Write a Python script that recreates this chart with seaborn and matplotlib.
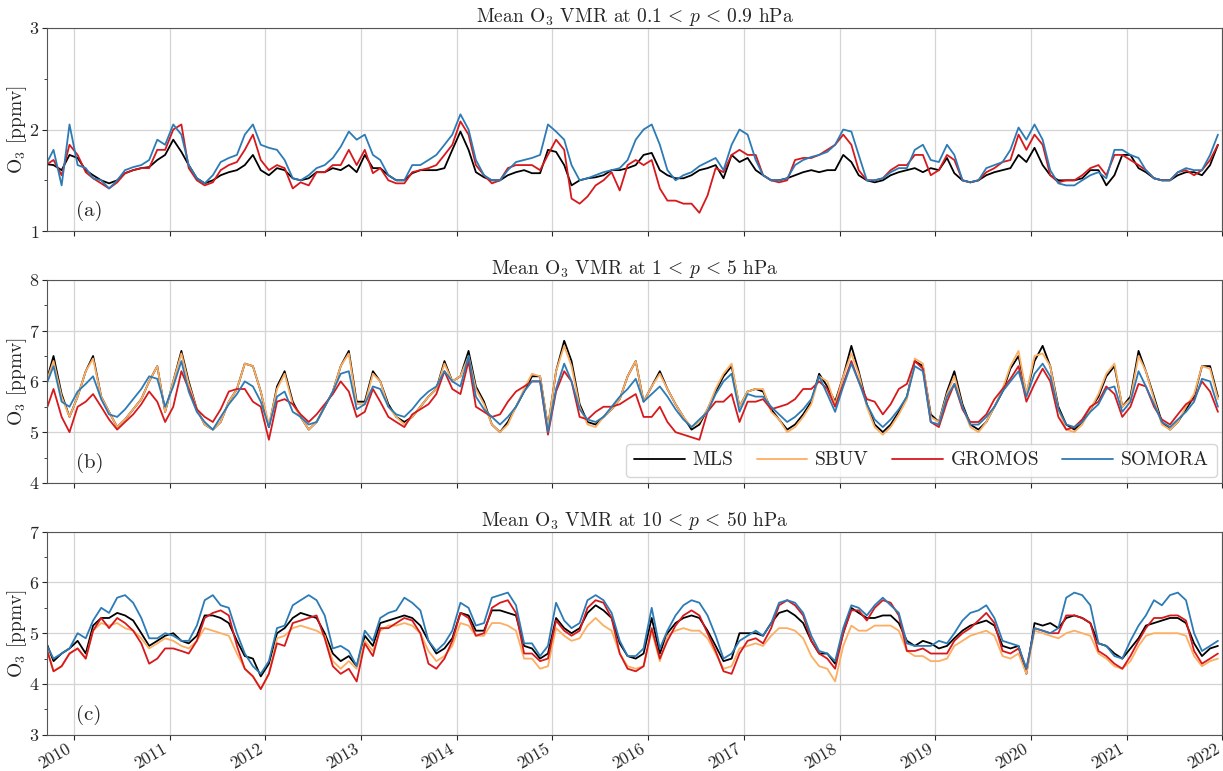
import matplotlib
matplotlib.use("Agg")
import matplotlib.pyplot as plt
import matplotlib.dates as mdates
from matplotlib.lines import Line2D
from matplotlib.ticker import MultipleLocator
import seaborn as sns
import pandas as pd

# monthly means, Sep 2009 .. Dec 2021
months = pd.date_range("2009-09-01", "2021-12-01", freq="MS") + pd.Timedelta(days=14)

instruments = ["MLS", "SBUV", "GROMOS", "SOMORA"]
colors = {"MLS": "black", "SBUV": "#fdae61", "GROMOS": "#d7191c", "SOMORA": "#2c7bb6"}

# panel (a): 0.1 < p < 0.9 hPa
a_mls = [1.66, 1.65, 1.60, 1.75,
         1.72, 1.60, 1.55, 1.50, 1.47, 1.50, 1.57, 1.60, 1.62, 1.63, 1.70, 1.75,
         1.90, 1.78, 1.65, 1.52, 1.47, 1.50, 1.55, 1.58, 1.60, 1.65, 1.75, 1.60,
         1.55, 1.62, 1.60, 1.52, 1.50, 1.52, 1.58, 1.58, 1.62, 1.60, 1.65, 1.58,
         1.75, 1.62, 1.62, 1.55, 1.50, 1.50, 1.57, 1.60, 1.60, 1.60, 1.62, 1.80,
         1.98, 1.80, 1.58, 1.53, 1.50, 1.50, 1.55, 1.58, 1.60, 1.57, 1.57, 1.80,
         1.78, 1.65, 1.45, 1.50, 1.52, 1.53, 1.55, 1.60, 1.60, 1.62, 1.65, 1.75,
         1.77, 1.60, 1.55, 1.52, 1.52, 1.55, 1.60, 1.62, 1.65, 1.52, 1.75, 1.68,
         1.72, 1.60, 1.55, 1.50, 1.50, 1.52, 1.55, 1.58, 1.60, 1.58, 1.60, 1.60,
         1.75, 1.68, 1.55, 1.50, 1.48, 1.50, 1.55, 1.58, 1.60, 1.62, 1.58, 1.62,
         1.60, 1.72, 1.57, 1.50, 1.48, 1.50, 1.55, 1.58, 1.60, 1.62, 1.75, 1.68,
         1.82, 1.65, 1.55, 1.50, 1.50, 1.50, 1.52, 1.60, 1.60, 1.45, 1.55, 1.75,
         1.75, 1.62, 1.58, 1.52, 1.50, 1.50, 1.55, 1.58, 1.58, 1.55, 1.65, 1.85]
a_gromos = [1.65, 1.70, 1.55, 1.85,
            1.75, 1.58, 1.52, 1.47, 1.42, 1.48, 1.57, 1.60, 1.62, 1.62, 1.80, 1.80,
            2.00, 2.05, 1.62, 1.50, 1.45, 1.48, 1.60, 1.65, 1.68, 1.80, 1.95, 1.70,
            1.60, 1.65, 1.62, 1.42, 1.48, 1.45, 1.58, 1.58, 1.65, 1.65, 1.80, 1.65,
            1.80, 1.57, 1.62, 1.50, 1.47, 1.47, 1.58, 1.60, 1.62, 1.65, 1.75, 1.85,
            2.08, 1.95, 1.65, 1.55, 1.47, 1.50, 1.62, 1.65, 1.65, 1.65, 1.60, 1.75,
            1.90, 1.80, 1.32, 1.27, 1.34, 1.45, 1.50, 1.58, 1.40, 1.65, 1.70, 1.65,
            1.70, 1.42, 1.30, 1.30, 1.27, 1.27, 1.18, 1.35, 1.62, 1.58, 1.75, 1.80,
            1.75, 1.75, 1.55, 1.50, 1.48, 1.50, 1.70, 1.72, 1.72, 1.75, 1.80, 1.85,
            1.95, 1.85, 1.60, 1.50, 1.50, 1.52, 1.60, 1.65, 1.65, 1.75, 1.75, 1.55,
            1.60, 1.75, 1.70, 1.50, 1.48, 1.50, 1.58, 1.62, 1.68, 1.70, 1.95, 1.80,
            1.95, 1.85, 1.55, 1.48, 1.50, 1.50, 1.55, 1.62, 1.65, 1.55, 1.75, 1.75,
            1.70, 1.65, 1.60, 1.52, 1.50, 1.50, 1.58, 1.60, 1.55, 1.60, 1.70, 1.85]
a_somora = [1.65, 1.80, 1.45, 2.05,
            1.65, 1.62, 1.52, 1.50, 1.42, 1.50, 1.60, 1.63, 1.65, 1.70, 1.90, 1.85,
            2.05, 1.95, 1.65, 1.52, 1.47, 1.55, 1.68, 1.72, 1.75, 1.95, 2.05, 1.85,
            1.82, 1.80, 1.70, 1.52, 1.50, 1.55, 1.62, 1.65, 1.72, 1.83, 1.98, 1.90,
            1.95, 1.75, 1.70, 1.55, 1.50, 1.50, 1.65, 1.65, 1.70, 1.75, 1.85, 1.95,
            2.15, 2.00, 1.70, 1.55, 1.50, 1.50, 1.60, 1.68, 1.70, 1.72, 1.75, 2.05,
            1.98, 1.90, 1.65, 1.50, 1.52, 1.55, 1.58, 1.60, 1.62, 1.70, 1.90, 2.00,
            2.05, 1.85, 1.60, 1.50, 1.55, 1.58, 1.64, 1.68, 1.72, 1.60, 1.85, 2.00,
            1.95, 1.70, 1.55, 1.50, 1.50, 1.52, 1.65, 1.70, 1.73, 1.75, 1.78, 1.85,
            2.00, 1.98, 1.75, 1.50, 1.50, 1.52, 1.58, 1.62, 1.62, 1.80, 1.85, 1.70,
            1.68, 1.85, 1.75, 1.50, 1.48, 1.50, 1.62, 1.65, 1.68, 1.80, 2.02, 1.90,
            2.05, 1.90, 1.60, 1.47, 1.45, 1.45, 1.50, 1.55, 1.58, 1.52, 1.80, 1.80,
            1.75, 1.72, 1.60, 1.52, 1.50, 1.50, 1.58, 1.62, 1.60, 1.60, 1.75, 1.95]

# panel (b): 1 < p < 5 hPa
b_mls = [5.95, 6.50, 5.75, 5.30,
         5.70, 6.20, 6.50, 5.70, 5.40, 5.10, 5.25, 5.45, 5.65, 6.00, 6.30, 5.40,
         6.00, 6.60, 6.00, 5.45, 5.15, 5.05, 5.20, 5.60, 5.85, 6.35, 6.30, 5.80,
         5.10, 5.90, 6.20, 5.60, 5.30, 5.05, 5.20, 5.50, 5.80, 6.30, 6.60, 5.60,
         5.60, 6.20, 6.00, 5.55, 5.30, 5.20, 5.30, 5.50, 5.70, 5.85, 6.40, 6.00,
         6.10, 6.60, 5.90, 5.60, 5.15, 5.00, 5.20, 5.50, 5.80, 6.10, 6.10, 5.10,
         6.20, 6.80, 6.40, 5.55, 5.20, 5.15, 5.30, 5.45, 5.65, 6.10, 6.40, 5.60,
         5.90, 6.20, 5.85, 5.55, 5.30, 5.05, 5.15, 5.45, 5.80, 6.10, 6.30, 5.50,
         5.80, 5.85, 5.80, 5.45, 5.25, 5.05, 5.15, 5.35, 5.60, 6.15, 5.90, 5.60,
         6.10, 6.70, 6.20, 5.55, 5.15, 5.00, 5.15, 5.40, 5.70, 6.40, 6.30, 5.35,
         5.20, 5.80, 6.20, 5.55, 5.15, 5.05, 5.20, 5.50, 5.80, 6.25, 6.50, 5.75,
         6.40, 6.70, 6.30, 5.50, 5.15, 5.05, 5.20, 5.45, 5.70, 6.10, 6.30, 5.50,
         5.70, 6.60, 6.20, 5.70, 5.20, 5.05, 5.20, 5.45, 5.70, 6.30, 6.30, 5.70]
b_sbuv = [5.95, 6.40, 5.70, 5.30,
          5.70, 6.20, 6.45, 5.70, 5.40, 5.10, 5.25, 5.45, 5.65, 6.00, 6.30, 5.40,
          6.00, 6.55, 5.95, 5.45, 5.15, 5.05, 5.20, 5.60, 5.85, 6.35, 6.30, 5.80,
          5.15, 5.85, 6.15, 5.55, 5.30, 5.05, 5.20, 5.50, 5.80, 6.30, 6.55, 5.55,
          5.55, 6.15, 6.00, 5.50, 5.30, 5.15, 5.30, 5.50, 5.70, 5.85, 6.35, 6.00,
          6.10, 6.50, 5.85, 5.55, 5.15, 5.00, 5.15, 5.50, 5.85, 6.15, 6.10, 5.10,
          6.20, 6.70, 6.30, 5.50, 5.15, 5.10, 5.30, 5.45, 5.65, 6.10, 6.40, 5.60,
          5.90, 6.15, 5.85, 5.55, 5.30, 5.10, 5.20, 5.45, 5.85, 6.15, 6.35, 5.50,
          5.80, 5.85, 5.85, 5.40, 5.25, 5.00, 5.10, 5.30, 5.55, 6.10, 6.00, 5.55,
          6.10, 6.55, 6.15, 5.50, 5.10, 4.95, 5.10, 5.35, 5.65, 6.45, 6.35, 5.30,
          5.20, 5.75, 6.10, 5.50, 5.10, 5.00, 5.20, 5.50, 5.85, 6.30, 6.60, 5.75,
          6.50, 6.55, 6.30, 5.45, 5.05, 5.00, 5.15, 5.45, 5.75, 6.15, 6.35, 5.50,
          5.65, 6.50, 6.20, 5.65, 5.15, 5.05, 5.20, 5.50, 5.75, 6.30, 6.25, 5.65]
b_gromos = [5.40, 5.85, 5.30, 5.00,
            5.50, 5.60, 5.75, 5.50, 5.25, 5.05, 5.20, 5.35, 5.55, 5.80, 5.60, 5.20,
            5.50, 6.20, 5.85, 5.45, 5.30, 5.20, 5.45, 5.80, 5.85, 5.85, 5.60, 5.50,
            4.85, 5.60, 5.65, 5.55, 5.35, 5.20, 5.35, 5.55, 5.75, 6.00, 5.80, 5.30,
            5.40, 5.85, 5.60, 5.30, 5.20, 5.10, 5.35, 5.45, 5.55, 5.75, 6.20, 5.85,
            5.75, 6.40, 5.50, 5.40, 5.30, 5.35, 5.60, 5.80, 5.90, 6.00, 6.00, 4.95,
            5.80, 6.20, 6.00, 5.30, 5.25, 5.40, 5.50, 5.50, 5.55, 5.65, 5.75, 5.30,
            5.30, 5.50, 5.20, 5.00, 4.95, 4.90, 4.85, 5.40, 5.60, 5.60, 5.75, 5.20,
            5.60, 5.60, 5.65, 5.45, 5.50, 5.55, 5.65, 5.85, 5.85, 6.00, 5.85, 5.50,
            5.95, 6.40, 6.00, 5.65, 5.60, 5.35, 5.55, 5.85, 5.95, 6.40, 6.25, 5.20,
            5.10, 5.60, 5.95, 5.45, 5.20, 5.20, 5.35, 5.65, 5.85, 6.05, 6.30, 5.60,
            5.95, 6.25, 6.00, 5.30, 5.05, 5.10, 5.25, 5.50, 5.60, 5.90, 5.75, 5.30,
            5.50, 5.95, 5.90, 5.50, 5.25, 5.15, 5.35, 5.55, 5.65, 6.00, 5.80, 5.40]
b_somora = [5.90, 6.30, 5.60, 5.50,
            5.80, 5.95, 6.10, 5.65, 5.35, 5.30, 5.45, 5.65, 5.85, 6.10, 6.05, 5.50,
            5.90, 6.40, 5.80, 5.40, 5.20, 5.05, 5.30, 5.55, 5.75, 6.00, 5.90, 5.60,
            5.10, 5.70, 5.80, 5.40, 5.30, 5.15, 5.20, 5.50, 5.80, 6.15, 6.20, 5.45,
            5.55, 5.90, 5.85, 5.50, 5.35, 5.30, 5.45, 5.65, 5.80, 5.90, 6.20, 6.00,
            5.90, 6.50, 5.70, 5.45, 5.30, 5.15, 5.30, 5.50, 5.80, 6.00, 6.00, 5.00,
            5.85, 6.35, 6.00, 5.45, 5.25, 5.20, 5.30, 5.50, 5.70, 5.85, 6.05, 5.60,
            5.75, 5.90, 5.70, 5.45, 5.25, 5.10, 5.25, 5.40, 5.75, 6.00, 6.15, 5.40,
            5.75, 5.70, 5.70, 5.50, 5.35, 5.20, 5.30, 5.45, 5.65, 6.10, 5.75, 5.40,
            5.90, 6.35, 6.00, 5.55, 5.25, 5.10, 5.25, 5.45, 5.70, 6.30, 6.20, 5.20,
            5.15, 5.70, 5.95, 5.50, 5.15, 5.15, 5.30, 5.50, 5.80, 6.00, 6.20, 5.70,
            6.15, 6.35, 6.10, 5.45, 5.15, 5.10, 5.20, 5.40, 5.55, 5.85, 5.90, 5.40,
            5.60, 6.20, 5.90, 5.55, 5.20, 5.10, 5.25, 5.40, 5.60, 6.05, 6.00, 5.50]

# panel (c): 10 < p < 50 hPa
c_mls = [4.85, 4.45, 4.60, 4.70,
         4.85, 4.60, 5.15, 5.30, 5.30, 5.40, 5.35, 5.25, 5.00, 4.75, 4.85, 4.95,
         5.00, 4.85, 4.80, 4.95, 5.35, 5.35, 5.30, 5.20, 4.85, 4.55, 4.50, 4.15,
         4.40, 5.00, 5.10, 5.30, 5.40, 5.35, 5.30, 5.00, 4.60, 4.45, 4.55, 4.35,
         4.95, 4.75, 5.20, 5.25, 5.30, 5.35, 5.30, 5.15, 4.85, 4.60, 4.70, 4.90,
         5.40, 5.35, 5.05, 5.05, 5.45, 5.45, 5.40, 5.35, 4.75, 4.70, 4.50, 4.60,
         5.30, 5.10, 5.00, 5.10, 5.40, 5.55, 5.45, 5.30, 4.80, 4.55, 4.50, 4.60,
         5.30, 4.60, 5.00, 5.20, 5.30, 5.35, 5.30, 5.05, 4.75, 4.45, 4.50, 5.00,
         5.00, 5.00, 4.95, 5.20, 5.40, 5.45, 5.35, 5.20, 4.85, 4.60, 4.60, 4.40,
         5.00, 5.50, 5.40, 5.30, 5.30, 5.35, 5.35, 5.20, 4.85, 4.75, 4.85, 4.80,
         4.70, 4.75, 4.90, 5.05, 5.15, 5.20, 5.25, 5.15, 4.75, 4.70, 4.75, 4.20,
         5.20, 5.15, 5.20, 5.10, 5.30, 5.35, 5.30, 5.20, 4.80, 4.75, 4.60, 4.50,
         4.70, 4.90, 5.15, 5.20, 5.25, 5.30, 5.30, 5.20, 4.80, 4.55, 4.70, 4.75]
c_sbuv = [4.80, 4.25, 4.35, 4.60,
          4.70, 4.50, 5.05, 5.20, 5.15, 5.20, 5.10, 5.05, 4.90, 4.70, 4.80, 4.90,
          4.85, 4.75, 4.70, 4.85, 5.10, 5.05, 5.00, 4.95, 4.60, 4.30, 4.15, 3.90,
          4.20, 4.90, 4.95, 5.10, 5.15, 5.10, 5.05, 4.95, 4.45, 4.30, 4.45, 4.30,
          4.85, 4.65, 5.05, 5.15, 5.15, 5.20, 5.15, 5.00, 4.65, 4.45, 4.55, 4.75,
          5.20, 5.15, 4.95, 4.95, 5.20, 5.20, 5.15, 5.05, 4.50, 4.50, 4.30, 4.35,
          5.10, 4.95, 4.85, 4.90, 5.15, 5.30, 5.15, 5.05, 4.60, 4.35, 4.30, 4.35,
          5.05, 4.45, 4.95, 5.05, 5.10, 5.05, 5.05, 4.90, 4.60, 4.30, 4.35, 4.70,
          4.75, 4.80, 4.75, 4.95, 5.10, 5.10, 5.05, 4.90, 4.55, 4.35, 4.30, 4.05,
          4.75, 5.15, 5.05, 5.05, 5.15, 5.15, 5.15, 5.05, 4.65, 4.55, 4.55, 4.45,
          4.45, 4.50, 4.75, 4.85, 4.95, 5.00, 5.05, 4.95, 4.55, 4.50, 4.60, 4.20,
          5.05, 5.00, 4.95, 4.90, 5.00, 5.05, 5.00, 4.95, 4.60, 4.50, 4.35, 4.30,
          4.45, 4.75, 4.95, 5.00, 5.00, 5.00, 5.00, 4.95, 4.55, 4.35, 4.45, 4.50]
c_gromos = [4.75, 4.25, 4.35, 4.60,
            4.70, 4.50, 5.05, 5.30, 5.10, 5.30, 5.20, 5.05, 4.80, 4.40, 4.50, 4.70,
            4.70, 4.65, 4.60, 4.85, 5.30, 5.40, 5.45, 5.35, 4.75, 4.30, 4.15, 3.90,
            4.20, 4.80, 4.75, 5.20, 5.25, 5.30, 5.35, 4.90, 4.35, 4.20, 4.30, 4.05,
            4.80, 4.55, 5.10, 5.10, 5.20, 5.30, 5.25, 5.00, 4.40, 4.30, 4.50, 4.85,
            5.40, 5.30, 4.95, 5.00, 5.50, 5.60, 5.65, 5.40, 4.60, 4.60, 4.45, 4.50,
            5.25, 5.05, 4.95, 5.05, 5.50, 5.65, 5.60, 5.30, 4.60, 4.30, 4.25, 4.35,
            5.10, 4.50, 4.85, 5.15, 5.35, 5.45, 5.35, 5.00, 4.65, 4.25, 4.20, 4.60,
            4.85, 4.90, 4.80, 5.10, 5.55, 5.65, 5.55, 5.35, 4.85, 4.60, 4.50, 4.30,
            5.00, 5.45, 5.45, 5.25, 5.50, 5.65, 5.60, 5.35, 4.65, 4.65, 4.70, 4.60,
            4.60, 4.60, 4.85, 5.00, 5.10, 5.25, 5.40, 5.20, 4.65, 4.60, 4.70, 4.30,
            5.10, 5.05, 5.00, 5.00, 5.35, 5.35, 5.30, 5.20, 4.65, 4.55, 4.40, 4.30,
            4.55, 4.85, 5.10, 5.30, 5.30, 5.35, 5.35, 5.25, 4.65, 4.40, 4.50, 4.60]
c_somora = [4.80, 4.50, 4.60, 4.70,
            5.00, 4.90, 5.25, 5.50, 5.40, 5.70, 5.75, 5.60, 5.30, 4.90, 4.90, 5.00,
            4.95, 4.85, 4.85, 5.15, 5.65, 5.75, 5.55, 5.50, 5.00, 4.60, 4.35, 4.20,
            4.45, 5.10, 5.15, 5.55, 5.65, 5.75, 5.65, 5.35, 4.70, 4.75, 4.65, 4.35,
            5.05, 4.85, 5.30, 5.40, 5.45, 5.70, 5.60, 5.45, 4.85, 4.65, 4.80, 5.05,
            5.60, 5.50, 5.15, 5.20, 5.70, 5.75, 5.80, 5.55, 4.80, 4.80, 4.55, 4.75,
            5.60, 5.25, 5.10, 5.20, 5.65, 5.75, 5.65, 5.40, 4.85, 4.55, 4.55, 4.70,
            5.50, 4.70, 5.05, 5.35, 5.55, 5.65, 5.60, 5.35, 4.95, 4.50, 4.60, 4.85,
            4.95, 5.05, 4.95, 5.20, 5.60, 5.65, 5.60, 5.40, 4.95, 4.65, 4.60, 4.45,
            5.10, 5.55, 5.50, 5.35, 5.55, 5.70, 5.55, 5.40, 4.80, 4.75, 4.75, 4.75,
            4.85, 4.80, 5.00, 5.25, 5.40, 5.45, 5.55, 5.30, 4.85, 4.80, 4.75, 4.30,
            5.10, 5.05, 5.00, 5.10, 5.70, 5.80, 5.75, 5.55, 4.80, 4.75, 4.55, 4.50,
            4.85, 5.15, 5.35, 5.65, 5.55, 5.75, 5.80, 5.65, 5.00, 4.65, 4.75, 4.85]

panels = [
    {"series": {"MLS": a_mls, "GROMOS": a_gromos, "SOMORA": a_somora},
     "title": r"Mean O$_3$ VMR at $0.1\, <\, p\, <\, 0.9$ hPa", "ylim": (1, 3), "tag": "(a)"},
    {"series": {"MLS": b_mls, "SBUV": b_sbuv, "GROMOS": b_gromos, "SOMORA": b_somora},
     "title": r"Mean O$_3$ VMR at $1\, <\, p\, <\, 5$ hPa", "ylim": (4, 8), "tag": "(b)"},
    {"series": {"MLS": c_mls, "SBUV": c_sbuv, "GROMOS": c_gromos, "SOMORA": c_somora},
     "title": r"Mean O$_3$ VMR at $10\, <\, p\, <\, 50$ hPa", "ylim": (3, 7), "tag": "(c)"},
]

sns.set_style("ticks")
plt.rcParams["font.family"] = ["cmr10", "DejaVu Serif"]
plt.rcParams["mathtext.fontset"] = "cm"
plt.rcParams["axes.formatter.use_mathtext"] = True
plt.rcParams["axes.unicode_minus"] = False

fig, axes = plt.subplots(3, 1, figsize=(12.23, 7.71), dpi=100, sharex=True)
fig.subplots_adjust(left=0.0384, right=0.9995, top=0.9637, bottom=0.047, hspace=0.24)

for ax, p in zip(axes, panels):
    df = pd.DataFrame({"time": months, **p["series"]})
    long = df.melt(id_vars="time", var_name="instrument", value_name="o3")
    order = [k for k in instruments if k in p["series"]]
    sns.lineplot(data=long, x="time", y="o3", hue="instrument", hue_order=order,
                 palette=colors, errorbar=None, legend=False, lw=1.3, ax=ax)
    ax.set_ylim(*p["ylim"])
    ax.yaxis.set_major_locator(MultipleLocator(1))
    ax.yaxis.set_minor_locator(MultipleLocator(0.5))
    ax.set_title(p["title"], fontsize=14, pad=3)
    ax.set_ylabel(r"O$_3$ [ppmv]", fontsize=14)
    ax.yaxis.set_label_coords(-0.0155, 0.5)
    ax.set_xlabel("")
    ax.grid(True, which="major", color="#d4d4d4", lw=0.9)
    ax.tick_params(axis="y", labelsize=13, pad=2)
    ax.tick_params(axis="x", labelsize=12.5, pad=1)
    for s in ax.spines.values():
        s.set_color("#555555")
    ax.text(0.025, 0.1, p["tag"], transform=ax.transAxes, fontsize=15,
            ha="left", va="center")

axes[-1].set_xlim(pd.Timestamp("2009-09-20"), pd.Timestamp("2022-01-01"))
axes[-1].xaxis.set_major_locator(mdates.YearLocator())
axes[-1].xaxis.set_major_formatter(mdates.DateFormatter("%Y"))
for lab in axes[-1].get_xticklabels():
    lab.set_rotation(30)
    lab.set_ha("right")

handles = [Line2D([], [], color=colors[k], lw=1.3) for k in instruments]
axes[1].legend(handles, instruments, loc="lower right", ncol=4, fontsize=14,
               handlelength=2.6, handletextpad=0.4, columnspacing=1.2,
               borderaxespad=0.3)

fig.savefig("out.png", dpi=100)
